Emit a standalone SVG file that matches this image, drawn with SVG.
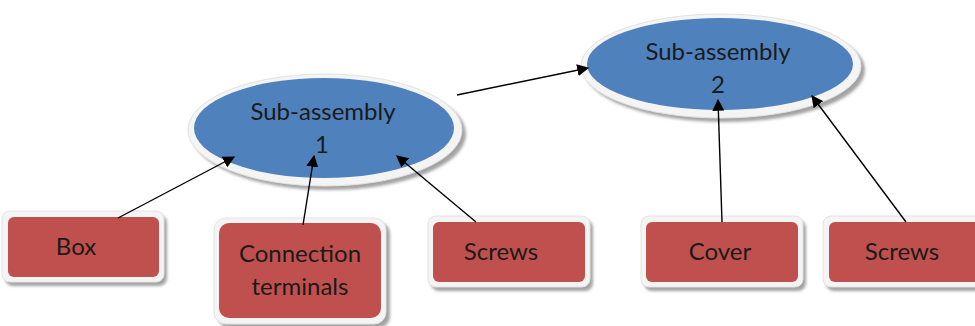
<svg xmlns="http://www.w3.org/2000/svg" width="975" height="326" viewBox="0 0 975 326">
  <defs>
    <filter id="soft" x="-10%" y="-10%" width="130%" height="140%">
      <feGaussianBlur stdDeviation="1.5"/>
    </filter>
    <marker id="arrowL" viewBox="0 0 10 10" refX="9" refY="5" markerWidth="12" markerHeight="12" markerUnits="userSpaceOnUse" orient="auto">
      <path d="M0,0 L10,5 L0,10 z" fill="#000"/>
    </marker>
  </defs>
  <style>
    .shadow { fill: #8c8c8c; filter: url(#soft); opacity: 0.8; }
    .rim { fill: #f4f4f4; stroke: #e2e2e2; stroke-width: 1; }
    .blue { fill: #4f81bd; }
    .red { fill: #c0504d; }
    .label { font-family: Lato, "Open Sans", "Liberation Sans", sans-serif; font-size: 24px; fill: #1a1a1a; text-anchor: middle; }
    .edge { stroke: #000; stroke-width: 1.4; fill: none; marker-end: url(#arrowL); }
  </style>

  <rect width="975" height="326" fill="#fff"/>

  <g id="sub1">
    <ellipse class="shadow" cx="329" cy="134" rx="137" ry="56"/>
    <ellipse class="rim" cx="325" cy="130" rx="137" ry="56"/>
    <ellipse class="blue" cx="324" cy="128" rx="130" ry="50"/>
    <text class="label" x="323" y="120">Sub-assembly</text>
    <text class="label" x="322" y="153">1</text>
  </g>

  <g id="sub2">
    <ellipse class="shadow" cx="725" cy="70" rx="140" ry="52"/>
    <ellipse class="rim" cx="721" cy="66" rx="140" ry="52"/>
    <ellipse class="blue" cx="720" cy="64" rx="133" ry="46"/>
    <text class="label" x="718" y="60">Sub-assembly</text>
    <text class="label" x="718" y="93">2</text>
  </g>

  <g id="box">
    <rect class="shadow" x="5" y="215" width="162" height="71" rx="8"/>
    <rect class="rim" x="2" y="211" width="162" height="71" rx="8"/>
    <rect class="red" x="8" y="217" width="151" height="60" rx="6"/>
    <text class="label" x="76" y="255">Box</text>
  </g>

  <g id="terminals">
    <rect class="shadow" x="218" y="222" width="172" height="106" rx="12"/>
    <rect class="rim" x="214" y="218" width="172" height="106" rx="12"/>
    <rect class="red" x="219" y="223" width="162" height="95" rx="10"/>
    <text class="label" x="300" y="262">Connection</text>
    <text class="label" x="300" y="295">terminals</text>
  </g>

  <g id="screws1">
    <rect class="shadow" x="431" y="220" width="162" height="71" rx="8"/>
    <rect class="rim" x="428" y="216" width="162" height="71" rx="8"/>
    <rect class="red" x="433" y="222" width="152" height="60" rx="6"/>
    <text class="label" x="501" y="260">Screws</text>
  </g>

  <g id="cover">
    <rect class="shadow" x="644" y="220" width="162" height="71" rx="8"/>
    <rect class="rim" x="641" y="216" width="162" height="71" rx="8"/>
    <rect class="red" x="646" y="222" width="152" height="60" rx="6"/>
    <text class="label" x="720" y="260">Cover</text>
  </g>

  <g id="screws2">
    <rect class="shadow" x="826" y="220" width="162" height="71" rx="8"/>
    <rect class="rim" x="823" y="216" width="162" height="71" rx="8"/>
    <rect class="red" x="829" y="222" width="152" height="60" rx="6"/>
    <text class="label" x="902" y="260">Screws</text>
  </g>

  <g id="connectors">
    <line class="edge" x1="118" y1="218" x2="234" y2="157"/>
    <line class="edge" x1="303" y1="225" x2="314" y2="156"/>
    <line class="edge" x1="476" y1="222" x2="397" y2="156"/>
    <line class="edge" x1="457" y1="95" x2="588" y2="68"/>
    <line class="edge" x1="722" y1="222" x2="718" y2="100"/>
    <line class="edge" x1="906" y1="222" x2="812" y2="96"/>
  </g>
</svg>
